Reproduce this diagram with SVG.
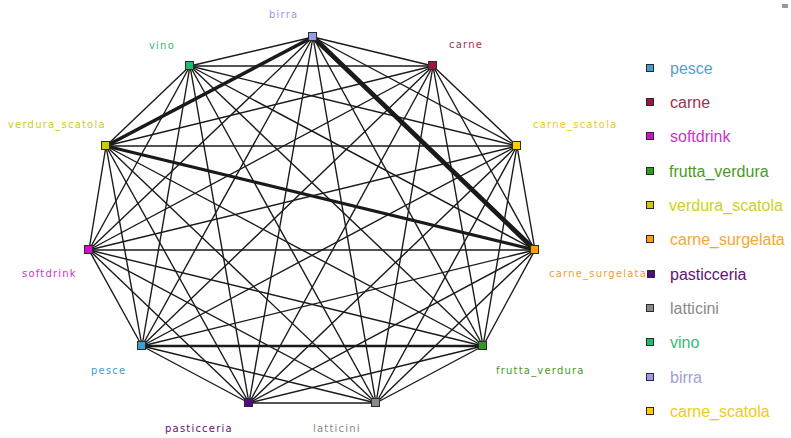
<svg xmlns="http://www.w3.org/2000/svg" width="791" height="438" viewBox="0 0 791 438">
<style>
.e{stroke:#1a1a1a;stroke-width:1.4;fill:none}
.t1{stroke-width:4.8}
.t2{stroke-width:3.6}
.t3{stroke-width:3.2}
.t4{stroke-width:2.4}
.n{stroke:#2a2a2a;stroke-width:1}
.nl{font-family:"DejaVu Sans",Verdana,sans-serif;font-size:10px;letter-spacing:1.2px}
.lg{font-family:"Liberation Sans",Arial,sans-serif;font-size:16px}
</style>
<rect width="791" height="438" fill="#ffffff"/>
<rect x="782" y="4" width="6" height="4" fill="#9a9a9a"/>
<g id="connectors">
<line class="e" x1="313" y1="37" x2="433" y2="66"/>
<line class="e" x1="313" y1="37" x2="517" y2="146"/>
<line class="e" x1="313" y1="37" x2="483" y2="346"/>
<line class="e" x1="313" y1="37" x2="376" y2="403"/>
<line class="e" x1="313" y1="37" x2="249" y2="403"/>
<line class="e" x1="313" y1="37" x2="142" y2="346"/>
<line class="e" x1="313" y1="37" x2="89" y2="250"/>
<line class="e" x1="313" y1="37" x2="190" y2="66"/>
<line class="e" x1="433" y1="66" x2="517" y2="146"/>
<line class="e" x1="433" y1="66" x2="535" y2="250"/>
<line class="e" x1="433" y1="66" x2="483" y2="346"/>
<line class="e" x1="433" y1="66" x2="376" y2="403"/>
<line class="e" x1="433" y1="66" x2="249" y2="403"/>
<line class="e" x1="433" y1="66" x2="142" y2="346"/>
<line class="e" x1="433" y1="66" x2="89" y2="250"/>
<line class="e" x1="433" y1="66" x2="106" y2="146"/>
<line class="e" x1="433" y1="66" x2="190" y2="66"/>
<line class="e" x1="517" y1="146" x2="535" y2="250"/>
<line class="e" x1="517" y1="146" x2="483" y2="346"/>
<line class="e" x1="517" y1="146" x2="376" y2="403"/>
<line class="e" x1="517" y1="146" x2="249" y2="403"/>
<line class="e" x1="517" y1="146" x2="142" y2="346"/>
<line class="e" x1="517" y1="146" x2="89" y2="250"/>
<line class="e" x1="517" y1="146" x2="106" y2="146"/>
<line class="e" x1="517" y1="146" x2="190" y2="66"/>
<line class="e" x1="535" y1="250" x2="483" y2="346"/>
<line class="e" x1="535" y1="250" x2="376" y2="403"/>
<line class="e" x1="535" y1="250" x2="249" y2="403"/>
<line class="e" x1="535" y1="250" x2="142" y2="346"/>
<line class="e" x1="535" y1="250" x2="89" y2="250"/>
<line class="e" x1="535" y1="250" x2="190" y2="66"/>
<line class="e" x1="483" y1="346" x2="376" y2="403"/>
<line class="e" x1="483" y1="346" x2="249" y2="403"/>
<line class="e" x1="483" y1="346" x2="89" y2="250"/>
<line class="e" x1="483" y1="346" x2="106" y2="146"/>
<line class="e" x1="483" y1="346" x2="190" y2="66"/>
<line class="e" x1="376" y1="403" x2="249" y2="403"/>
<line class="e" x1="376" y1="403" x2="142" y2="346"/>
<line class="e" x1="376" y1="403" x2="89" y2="250"/>
<line class="e" x1="376" y1="403" x2="106" y2="146"/>
<line class="e" x1="376" y1="403" x2="190" y2="66"/>
<line class="e" x1="249" y1="403" x2="142" y2="346"/>
<line class="e" x1="249" y1="403" x2="89" y2="250"/>
<line class="e" x1="249" y1="403" x2="106" y2="146"/>
<line class="e" x1="249" y1="403" x2="190" y2="66"/>
<line class="e" x1="142" y1="346" x2="89" y2="250"/>
<line class="e" x1="142" y1="346" x2="106" y2="146"/>
<line class="e" x1="142" y1="346" x2="190" y2="66"/>
<line class="e" x1="89" y1="250" x2="106" y2="146"/>
<line class="e" x1="89" y1="250" x2="190" y2="66"/>
<line class="e" x1="106" y1="146" x2="190" y2="66"/>
<line class="e t4" x1="483" y1="346" x2="142" y2="346"/>
<line class="e t3" x1="535" y1="250" x2="106" y2="146"/>
<line class="e t2" x1="313" y1="37" x2="106" y2="146"/>
<line class="e t1" x1="313" y1="37" x2="535" y2="250"/>
</g>
<g id="node-birra"><rect class="n" x="308.5" y="32.5" width="8" height="8" fill="#9999ee"/><text class="nl" x="269" y="18" fill="#9a9add">birra</text></g>
<g id="node-carne"><rect class="n" x="428.5" y="61.5" width="8" height="8" fill="#a0143c"/><text class="nl" x="449" y="48" fill="#993355">carne</text></g>
<g id="node-carne_scatola"><rect class="n" x="512.5" y="141.5" width="8" height="8" fill="#ffcc00"/><text class="nl" x="533" y="128" fill="#f0c814">carne_scatola</text></g>
<g id="node-carne_surgelata"><rect class="n" x="530.5" y="245.5" width="8" height="8" fill="#ff9e0a"/><text class="nl" x="549" y="277" fill="#f5a020">carne_surgelata</text></g>
<g id="node-frutta_verdura"><rect class="n" x="478.5" y="341.5" width="8" height="8" fill="#2f9a1e"/><text class="nl" x="496" y="374" fill="#4a9a28">frutta_verdura</text></g>
<g id="node-latticini"><rect class="n" x="371.5" y="398.5" width="8" height="8" fill="#8a8a8a"/><text class="nl" x="313" y="432" fill="#8a8a8a">latticini</text></g>
<g id="node-pasticceria"><rect class="n" x="244.5" y="398.5" width="8" height="8" fill="#55088a"/><text class="nl" x="165" y="432" fill="#661177">pasticceria</text></g>
<g id="node-pesce"><rect class="n" x="137.5" y="341.5" width="8" height="8" fill="#3f9fcc"/><text class="nl" x="91" y="374" fill="#4a9acc">pesce</text></g>
<g id="node-softdrink"><rect class="n" x="84.5" y="245.5" width="8" height="8" fill="#cc11cc"/><text class="nl" x="22" y="277" fill="#cc33cc">softdrink</text></g>
<g id="node-verdura_scatola"><rect class="n" x="101.5" y="141.5" width="8" height="8" fill="#c8cc00"/><text class="nl" x="8" y="128" fill="#cccc22">verdura_scatola</text></g>
<g id="node-vino"><rect class="n" x="185.5" y="61.5" width="8" height="8" fill="#1ebe68"/><text class="nl" x="149" y="49" fill="#33bb77">vino</text></g>
<g id="legend">
<rect class="n" x="646.5" y="64.5" width="7" height="7" fill="#3f9fcc"/><text class="lg" x="670" y="74" fill="#5aa0c8">pesce</text>
<rect class="n" x="646.5" y="98.5" width="7" height="7" fill="#a0143c"/><text class="lg" x="670" y="108" fill="#993355">carne</text>
<rect class="n" x="646.5" y="132.5" width="7" height="7" fill="#cc11cc"/><text class="lg" x="670" y="142" fill="#cc33cc">softdrink</text>
<rect class="n" x="646.5" y="167.5" width="7" height="7" fill="#2f9a1e"/><text class="lg" x="669" y="177" fill="#4a9a28">frutta_verdura</text>
<rect class="n" x="646.5" y="201.5" width="7" height="7" fill="#c8cc00"/><text class="lg" x="669" y="211" fill="#d0d020">verdura_scatola</text>
<rect class="n" x="646.5" y="235.5" width="7" height="7" fill="#ff9e0a"/><text class="lg" x="670" y="245" fill="#f5a830">carne_surgelata</text>
<rect class="n" x="647.5" y="270.5" width="7" height="7" fill="#55088a"/><text class="lg" x="670" y="280" fill="#661177">pasticceria</text>
<rect class="n" x="646.5" y="304.5" width="7" height="7" fill="#8a8a8a"/><text class="lg" x="670" y="314" fill="#8a8a8a">latticini</text>
<rect class="n" x="646.5" y="338.5" width="7" height="7" fill="#1ebe68"/><text class="lg" x="670" y="348" fill="#33bb77">vino</text>
<rect class="n" x="646.5" y="373.5" width="7" height="7" fill="#9999ee"/><text class="lg" x="670" y="383" fill="#a0a0dd">birra</text>
<rect class="n" x="646.5" y="407.5" width="7" height="7" fill="#ffcc00"/><text class="lg" x="670" y="417" fill="#f0cc14">carne_scatola</text>
</g>
</svg>
